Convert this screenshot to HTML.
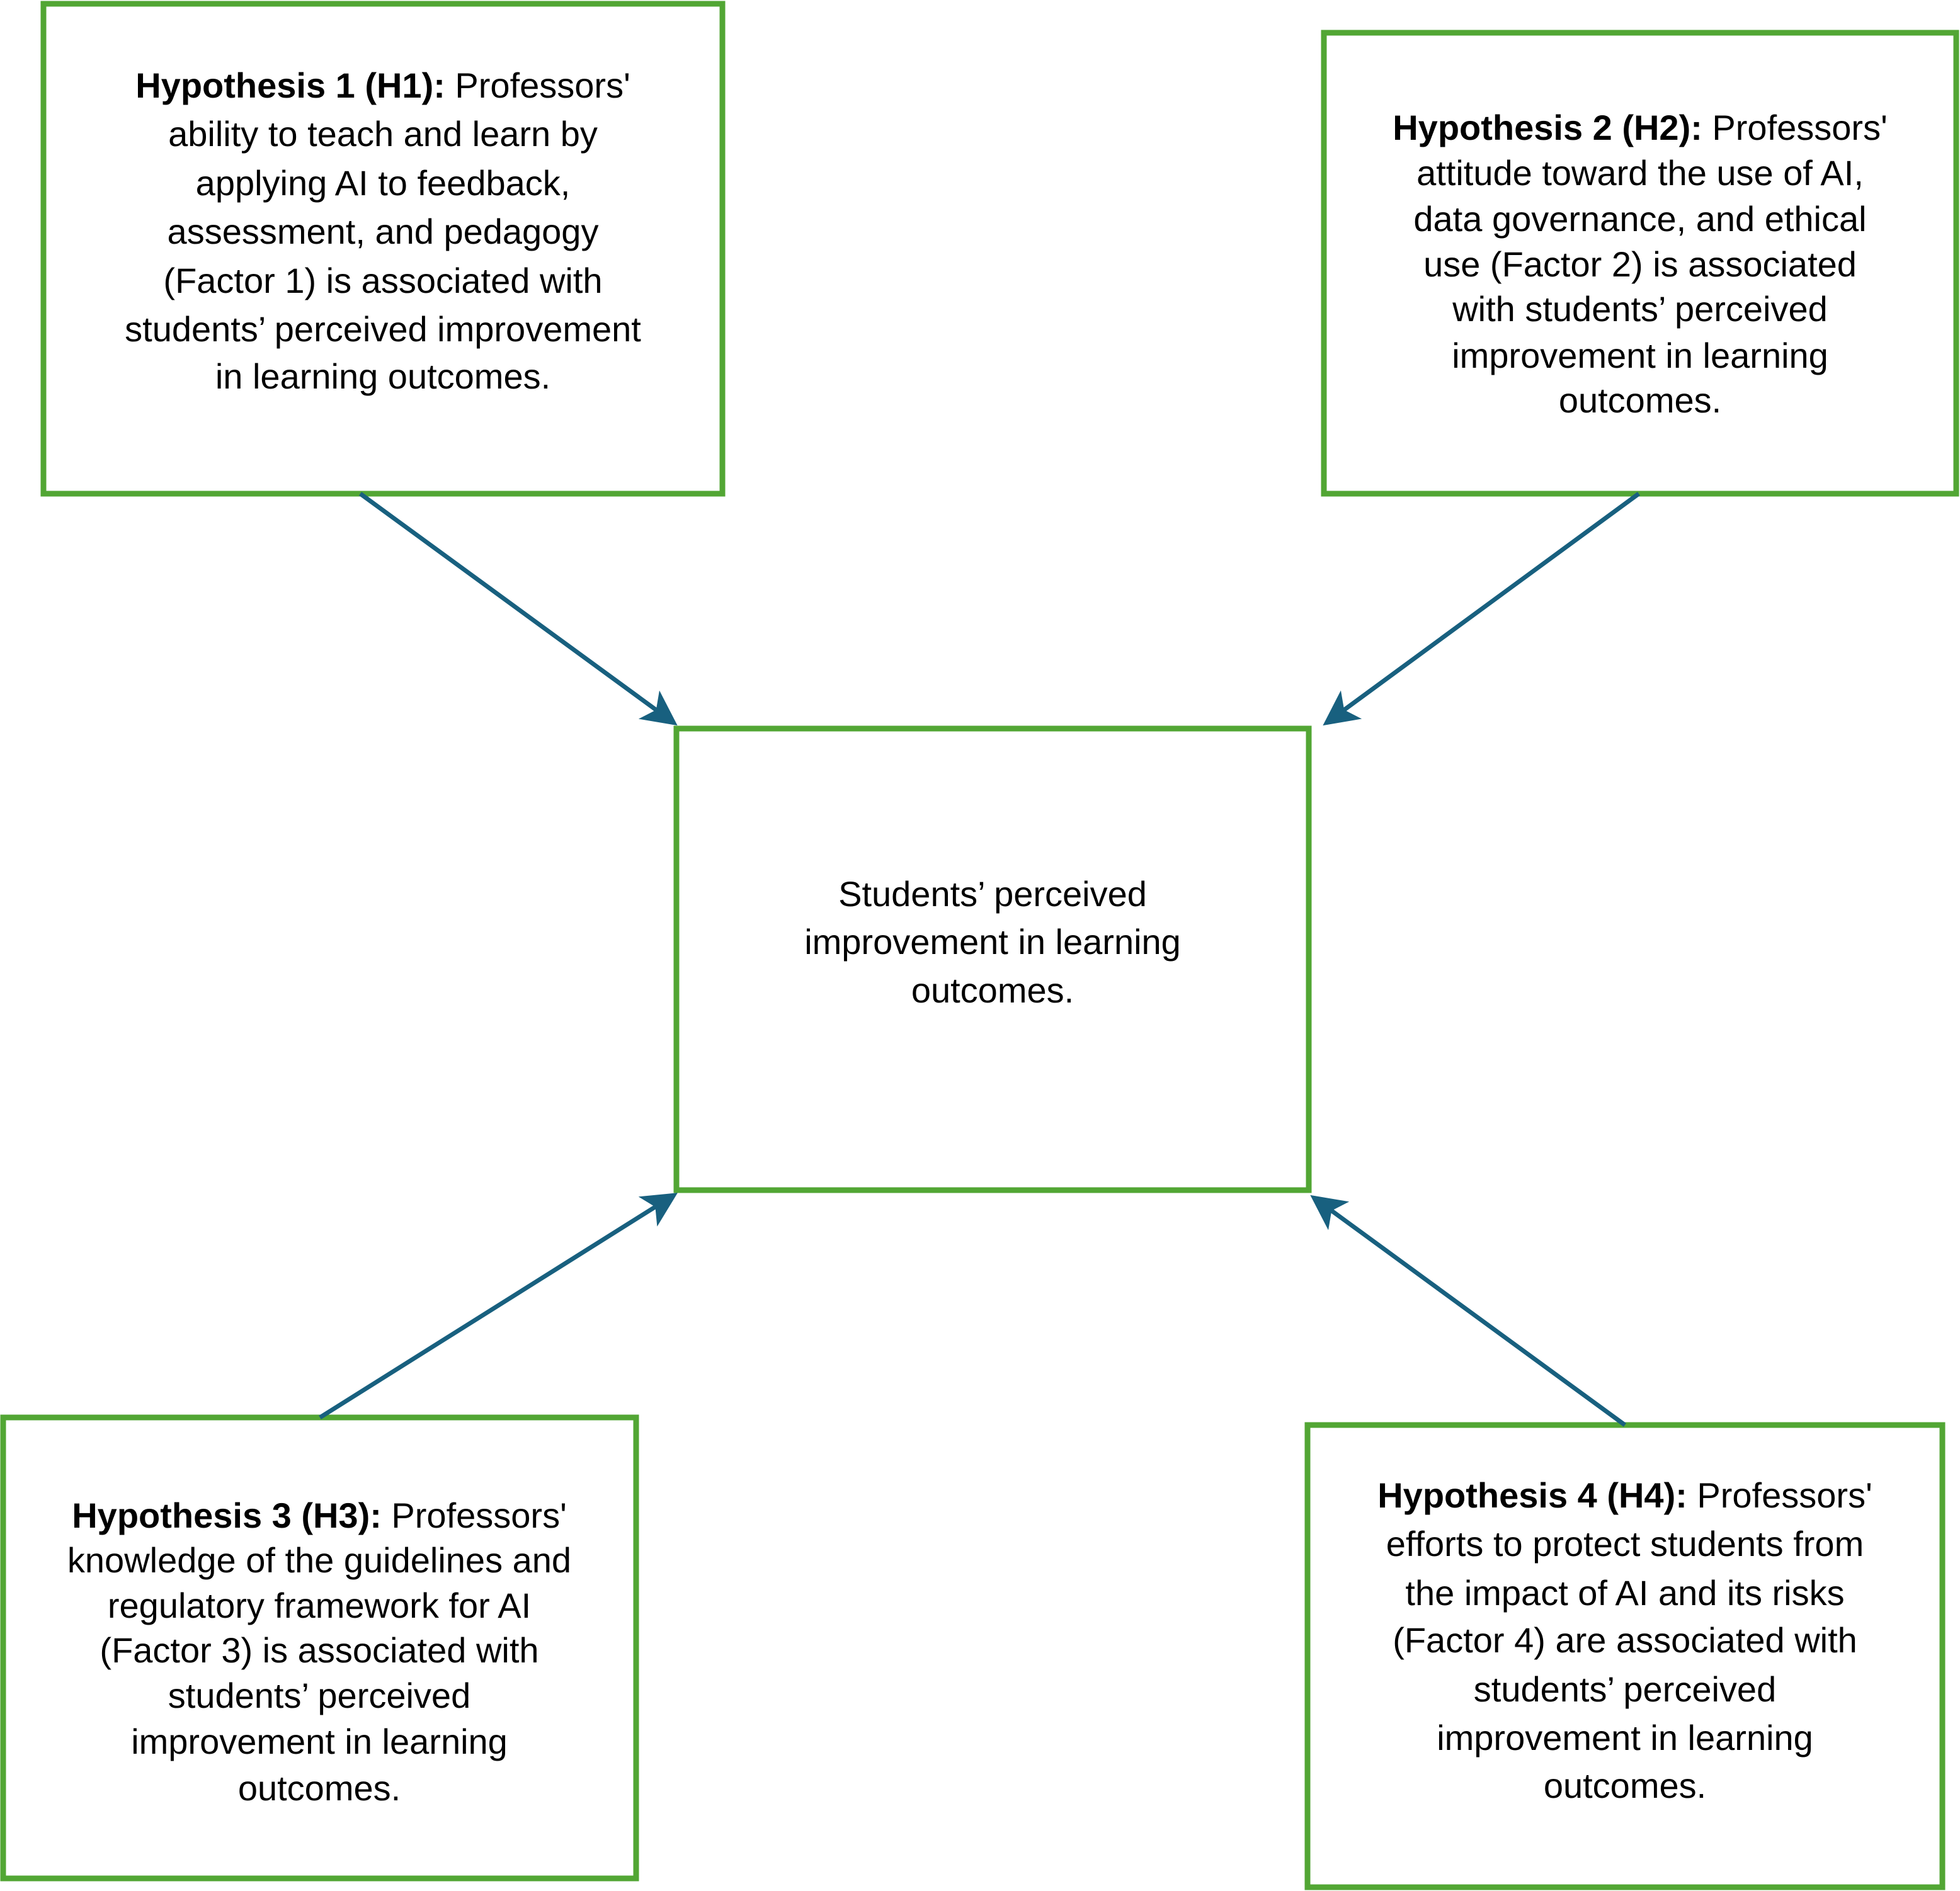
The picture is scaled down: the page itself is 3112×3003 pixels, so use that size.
<!DOCTYPE html>
<html><head><meta charset="utf-8"><style>
html,body{margin:0;padding:0;background:#fff;}
svg{display:block;}
text{font-family:"Liberation Sans",Arial,sans-serif;font-size:56px;fill:#000;}
</style></head><body>
<svg width="3112" height="3003" viewBox="0 0 3112 3003" xmlns="http://www.w3.org/2000/svg">
<defs>
<marker id="ah" markerWidth="8" markerHeight="8" refX="7" refY="4" orient="auto" markerUnits="strokeWidth">
<path d="M0,0 L8,4 L0,8 L2,4 z" fill="#18607f"/>
</marker>
</defs>
<g fill="none" stroke="#52a634" stroke-width="9">
<rect x="69" y="6" width="1078" height="778"/>
<rect x="2102" y="52" width="1004" height="732"/>
<rect x="1074" y="1157" width="1004" height="733"/>
<rect x="5" y="2251" width="1005" height="732"/>
<rect x="2076" y="2263" width="1008" height="734"/>
</g>
<g stroke="#18607f" stroke-width="7" marker-end="url(#ah)">
<line x1="572" y1="784" x2="1070" y2="1148"/>
<line x1="2602" y1="784" x2="2106" y2="1148"/>
<line x1="508" y1="2251" x2="1070" y2="1898"/>
<line x1="2580" y1="2263" x2="2086" y2="1902"/>
</g>
<g text-anchor="middle">
<text x="608" y="155"><tspan font-weight="bold">Hypothesis 1 (H1):</tspan> Professors'</text>
<text x="608" y="232">ability to teach and learn by</text>
<text x="608" y="310">applying AI to feedback,</text>
<text x="608" y="387">assessment, and pedagogy</text>
<text x="608" y="465">(Factor 1) is associated with</text>
<text x="608" y="542">students’ perceived improvement</text>
<text x="608" y="617">in learning outcomes.</text>

<text x="2604" y="222"><tspan font-weight="bold">Hypothesis 2 (H2):</tspan> Professors'</text>
<text x="2604" y="294">attitude toward the use of AI,</text>
<text x="2604" y="367">data governance, and ethical</text>
<text x="2604" y="439">use (Factor 2) is associated</text>
<text x="2604" y="510">with students’ perceived</text>
<text x="2604" y="584">improvement in learning</text>
<text x="2604" y="655">outcomes.</text>

<text x="1576" y="1439">Students’ perceived</text>
<text x="1576" y="1515">improvement in learning</text>
<text x="1576" y="1592">outcomes.</text>

<text x="507" y="2426"><tspan font-weight="bold">Hypothesis 3 (H3):</tspan> Professors'</text>
<text x="507" y="2497">knowledge of the guidelines and</text>
<text x="507" y="2569">regulatory framework for AI</text>
<text x="507" y="2640">(Factor 3) is associated with</text>
<text x="507" y="2712">students’ perceived</text>
<text x="507" y="2785">improvement in learning</text>
<text x="507" y="2859">outcomes.</text>

<text x="2580" y="2394"><tspan font-weight="bold">Hypothesis 4 (H4):</tspan> Professors'</text>
<text x="2580" y="2471">efforts to protect students from</text>
<text x="2580" y="2549">the impact of AI and its risks</text>
<text x="2580" y="2624">(Factor 4) are associated with</text>
<text x="2580" y="2702">students’ perceived</text>
<text x="2580" y="2779">improvement in learning</text>
<text x="2580" y="2855">outcomes.</text>
</g>
</svg>
</body></html>
